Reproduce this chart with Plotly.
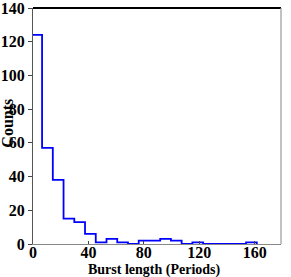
import plotly.graph_objects as go

# Histogram data (burst length in periods)
bin_start = -1.2
bin_width = 7.75
counts = [124, 57, 38, 15, 13, 6, 1, 3, 1, 0, 2, 2, 3, 2, 0, 1, 0, 0, 0, 0, 1]
x_ticks = [0, 40, 80, 120, 160]
y_ticks = [0, 20, 40, 60, 80, 100, 120, 140]

edges = [bin_start + i * bin_width for i in range(len(counts) + 1)]
# step outline (histtype='step')
xs = [edges[0]] + edges[:-1] + [edges[-1]]
ys = [0] + counts + [0]

fig = go.Figure()
fig.add_trace(go.Scatter(
    x=xs, y=ys, mode="lines", line=dict(color="#0000ff", width=1.8, shape="hv"),
    hoverinfo="skip", showlegend=False, cliponaxis=True,
))

font_family = "Liberation Serif"
fig.update_layout(
    width=291, height=277,
    margin=dict(l=33, r=10, t=8, b=33, autoexpand=False),
    paper_bgcolor="white", plot_bgcolor="white",
    font=dict(family=font_family, color="black"),
    showlegend=False,
)
fig.update_xaxes(
    range=[0, 179], tickvals=x_ticks, ticktext=[f"<b>{v}</b>" for v in x_ticks],
    tickfont=dict(size=16, family=font_family, color="black"),
    showgrid=False, zeroline=False, automargin=False, ticklabeloverflow="allow",
    showline=True, linecolor="#888888", linewidth=1, mirror=False,
    ticks="inside", ticklen=3, tickcolor="#444444", ticklabelstandoff=-6,
)
fig.update_yaxes(
    range=[0, 140], tickvals=y_ticks, ticktext=[f"<b>{v}</b>" for v in y_ticks],
    tickfont=dict(size=16, family=font_family, color="black"),
    showgrid=False, zeroline=False, automargin=False, ticklabeloverflow="allow",
    showline=True, linecolor="#555555", linewidth=1, mirror=False,
    ticks="outside", ticklen=4, tickcolor="#444444",
)
fig.add_annotation(text="<b>Burst length (Periods)</b>", xref="paper", yref="paper",
                   x=0.49, y=0, yshift=-26, xanchor="center", yanchor="middle",
                   showarrow=False, font=dict(size=14, family=font_family, color="black"))
fig.add_annotation(text="<b>Counts</b>", xref="paper", yref="paper",
                   x=0, y=0.51, xshift=-25, xanchor="center", yanchor="middle", textangle=-90,
                   showarrow=False, font=dict(size=16, family=font_family, color="black"))
# frame: top black, right gray
fig.add_shape(type="line", xref="paper", yref="paper", x0=0, x1=1, y0=1, y1=1,
              line=dict(color="black", width=1.8))
fig.add_shape(type="line", xref="paper", yref="paper", x0=1, x1=1, y0=0, y1=1,
              line=dict(color="#999999", width=1.2))

fig.write_html("out.html", config={"displayModeBar": False},
               post_script="document.body.style.margin='0px';")
